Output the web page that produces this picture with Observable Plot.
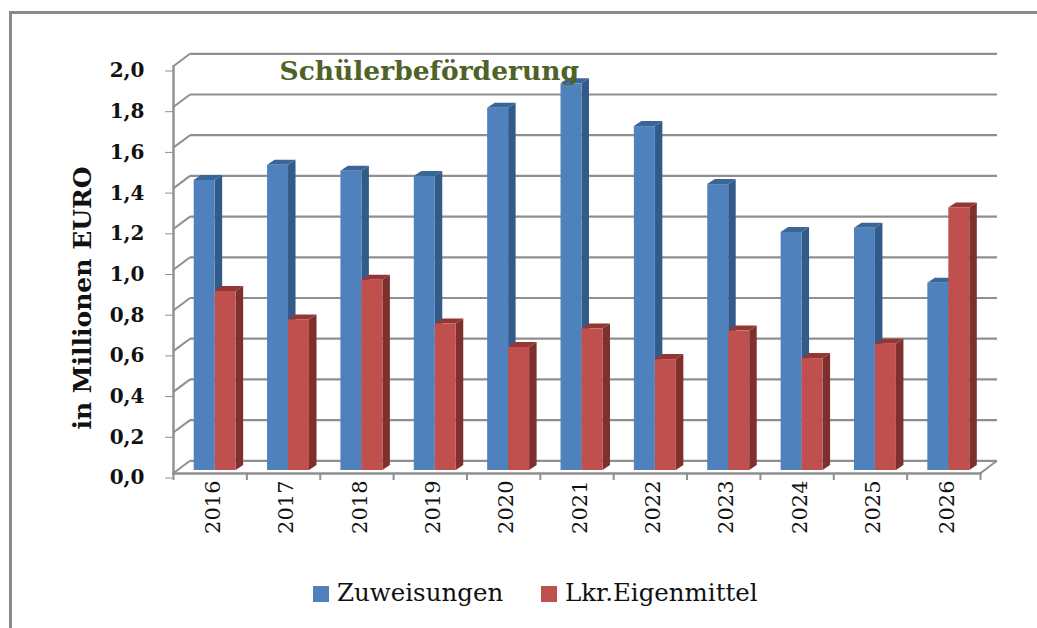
<!DOCTYPE html>
<html><head><meta charset="utf-8">
<script src="https://cdn.jsdelivr.net/npm/d3@7"></script>
<script src="https://cdn.jsdelivr.net/npm/@observablehq/plot@0.6"></script>
<style>
html,body{margin:0;padding:0;background:#fff;overflow:hidden}
#page{position:relative;width:1037px;height:628px;overflow:hidden}
#border{position:absolute;left:9px;top:11px;right:-10px;bottom:-10px;border-left:3px solid #8a8a8a;border-top:3px solid #8a8a8a}
#chart{position:absolute;left:0;top:0}
#legend{position:absolute;left:0;top:570px;width:1037px;height:58px;font:24.5px "DejaVu Serif",serif;color:#111}
#legend span{position:absolute;white-space:nowrap}
.sw{width:16px;height:16px}
</style></head><body>
<div id="page"><div id="border"></div><div id="chart"></div>
<div id="legend">
<span class="sw" style="left:313px;top:16px;background:#4F81BD"></span><span style="left:337px;top:8px" id="l1"></span>
<span class="sw" style="left:541px;top:16px;background:#C0504D"></span><span style="left:565px;top:8px" id="l2"></span>
</div></div>
<script>
const years = ["2016","2017","2018","2019","2020","2021","2022","2023","2024","2025","2026"];
const zuweisungen = [1.425,1.50,1.47,1.445,1.78,1.90,1.69,1.405,1.17,1.19,0.92];
const eigenmittel = [0.88,0.74,0.935,0.72,0.605,0.695,0.545,0.685,0.55,0.62,1.29];
const yTicks = [0,0.2,0.4,0.6,0.8,1.0,1.2,1.4,1.6,1.8,2.0];
const seriesNames = ["Zuweisungen","Lkr.Eigenmittel"];
const titleText = "Schülerbeförderung";
const yTitle = "in Millionen EURO";

const blueRows = years.map((year,i)=>({year,value:zuweisungen[i]}));
const redRows = years.map((year,i)=>({year,value:eigenmittel[i]}));

const GRID="#8f8f8f", DX=17, DY=12.7, BW=(980-173)/11, D=7.5, H=5;
const FONT='"DejaVu Serif",serif';

function face(kind){
  return function(index,scales,values,dims,ctx,next){
    const g=next(index,scales,values,dims,ctx);
    d3.select(g).selectAll("rect").each(function(){
      const r=d3.select(this),x=+r.attr("x"),y=+r.attr("y"),w=+r.attr("width"),h=+r.attr("height");
      const p=kind==="side"
        ?[[x+w,y],[x+w+D,y-H],[x+w+D,y+h-H],[x+w,y+h]]
        :[[x,y],[x+D,y-H],[x+w+D,y-H],[x+w,y]];
      const f=r.attr("fill")||d3.select(g).attr("fill");
      d3.select(this.parentNode).insert("polygon",()=>this).attr("points",p.join(" ")).attr("fill",f);
      r.remove();
    });
    return g;
  };
}
function diag(index,scales,values,dims,ctx,next){
  const g=next(index,scales,values,dims,ctx);
  d3.select(g).selectAll("line").each(function(){
    const l=d3.select(this),x=+l.attr("x1"),y=+l.attr("y1");
    l.attr("x2",x+DX).attr("y2",y-DY);
  });
  return g;
}
function bars(rows,front,side,top,left,right){
  const o={x:"year",y:"value",insetLeft:left,insetRight:right,dy:-3};
  return [
    Plot.barY(rows,{...o,fill:side,render:face("side")}),
    Plot.barY(rows,{...o,fill:top,render:face("top")}),
    Plot.barY(rows,{...o,fill:front})
  ];
}

const plot=Plot.plot({
  width:1037,height:570,
  marginLeft:173,marginRight:57,marginTop:66,marginBottom:97,
  style:{background:"transparent",fontFamily:FONT,color:"#111"},
  x:{type:"band",domain:years,paddingInner:0,paddingOuter:0,align:0,round:false,label:null,axis:null},
  y:{domain:[0,2],label:null,axis:null},
  marks:[
    Plot.ruleY(yTicks,{stroke:GRID,strokeWidth:2.2,dx:DX,dy:-DY}),
    Plot.ruleY(yTicks,{stroke:GRID,strokeWidth:2,render:diag}),
    Plot.ruleY([0],{stroke:GRID,strokeWidth:2,dx:807,render:diag}),
    Plot.frame({anchor:"left",stroke:GRID,strokeWidth:2.4}),
    Plot.frame({anchor:"bottom",stroke:GRID,strokeWidth:2.4}),
    Plot.ruleX(years,{x:d=>d,y1:0,y2:0,dx:-BW/2,insetBottom:-7,stroke:GRID,strokeWidth:2}),
    Plot.ruleX(years.slice(-1),{x:d=>d,y1:0,y2:0,dx:BW/2,insetBottom:-7,stroke:GRID,strokeWidth:2}),
    ...bars(blueRows,"#4F81BD","#335B8A","#3A6597",20.7,31.7),
    ...bars(redRows,"#C0504D","#7D302D","#943634",41.7,10.7),
    Plot.axisY({ticks:yTicks,tickSize:8,stroke:GRID,tickFormat:d=>d.toFixed(1).replace(".",","),tickPadding:21,fontSize:20,fontWeight:"bold",dy:4.5,label:null}),
    Plot.axisX({tickSize:0,tickRotate:-90,tickPadding:7,fontSize:21,dx:3,label:null}),
    Plot.text([yTitle],{frameAnchor:"left",rotate:-90,dx:-91,dy:28,fontSize:25,fontWeight:"bold",fill:"#111",textAnchor:"middle"}),
    Plot.text([titleText],{frameAnchor:"top-left",dx:106,dy:-5,fontSize:26.5,fontWeight:"bold",fill:"#4F6228",textAnchor:"start"})
  ]
});
document.getElementById("chart").append(plot);
document.getElementById("l1").textContent=seriesNames[0];
document.getElementById("l2").textContent=seriesNames[1];
</script>
</body></html>
